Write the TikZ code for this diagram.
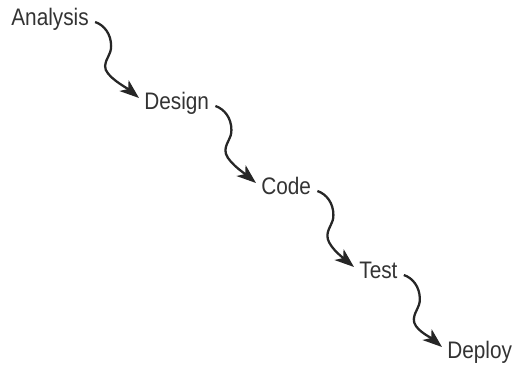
\documentclass[tikz,border=0pt]{standalone}
\usepackage{fontspec}
\setmainfont{Liberation Sans}[FakeStretch=0.87]
\usetikzlibrary{calc,arrows.meta}
\begin{document}
\begin{tikzpicture}[x=0.02cm,y=-0.02cm,
  lbl/.style={anchor=base west,inner sep=0pt,font=\fontsize{13.6pt}{15pt}\selectfont,text=black!80},
  wig/.style={line width=1.3pt,black!85,-{Stealth[length=11pt,width=8pt,inset=3pt]}}]
\useasboundingbox (0,0) rectangle (513,366);
\node[lbl] (a) at (11,25) {Analysis};
\node[lbl] (d) at (144,109) {Design};
\node[lbl] (c) at (261,194) {Code};
\node[lbl] (t) at (359,278) {Test};
\node[lbl] (p) at (447,358) {Deploy};
\foreach \s/\e in {a/d,d/c,c/t,t/p}{
  \draw[wig] ($(\s.base east)+(6,-3)$) coordinate (S)
    .. controls +(9,3) and +(0,-12) .. ($(S)+(16,24)$)
    .. controls +(0,9) and +(1,-9) .. ($(S)+(10,44)$)
    .. controls +(-1,10) and +(-12,-10) .. ($(\e.base west)+(-5,-11)$);
}
\end{tikzpicture}
\end{document}
